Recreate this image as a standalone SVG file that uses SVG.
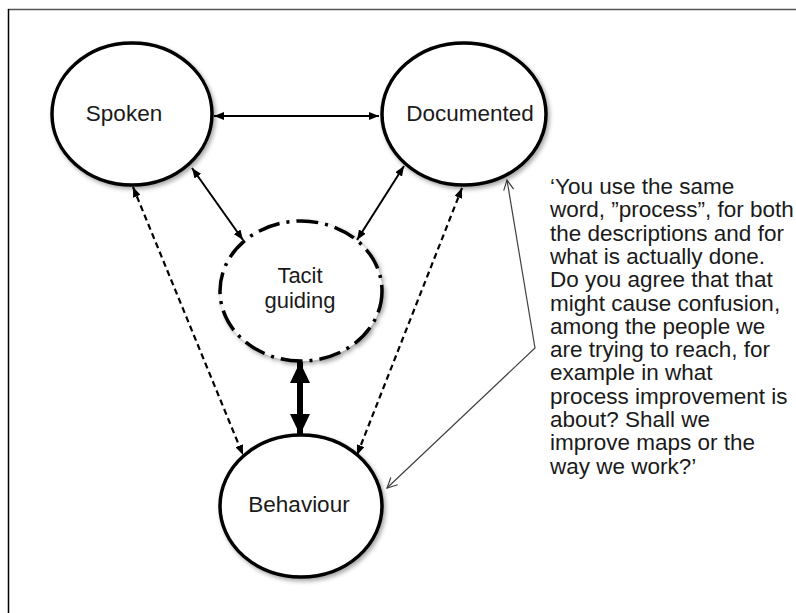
<svg xmlns="http://www.w3.org/2000/svg" width="796" height="613" viewBox="0 0 796 613">
  <style>
    .node { fill: #ffffff; stroke: #000000; stroke-width: 3.5; filter: url(#shadow); }
    .tacit { fill: #ffffff; stroke: #000000; stroke-width: 3.5; stroke-dasharray: 22 7 3 7; filter: url(#shadow); }
    .label { font-family: "Liberation Sans", Arial, sans-serif; font-size: 22.5px; fill: #1a1a1a; text-anchor: middle; }
    .quote { font-family: "Liberation Sans", Arial, sans-serif; font-size: 22.5px; fill: #1a1a1a; }
    .solid { stroke: #000; stroke-width: 2; fill: none; marker-start: url(#ah); marker-end: url(#ah); }
    .dashed { stroke: #000; stroke-width: 2.2; fill: none; stroke-dasharray: 6 4; marker-start: url(#ah); marker-end: url(#ah); }
    .thick { stroke: #000; stroke-width: 6; fill: none; marker-start: url(#big); marker-end: url(#big); }
    .thin { stroke: #404040; stroke-width: 1.2; fill: none; marker-start: url(#open); marker-end: url(#open); }
  </style>
  <defs>
    <filter id="shadow" x="-20%" y="-20%" width="150%" height="150%">
      <feDropShadow dx="2" dy="2.5" stdDeviation="2" flood-color="#000" flood-opacity="0.35"/>
    </filter>
    <marker id="ah" markerUnits="userSpaceOnUse" viewBox="0 0 10 8" refX="10" refY="4" markerWidth="10" markerHeight="8" orient="auto-start-reverse">
      <path d="M0,0 L10,4 L0,8 Z" fill="#000"/>
    </marker>
    <marker id="big" markerUnits="userSpaceOnUse" viewBox="0 0 21 20" refX="21" refY="10" markerWidth="21" markerHeight="20" orient="auto-start-reverse">
      <path d="M0,0 L21,10 L0,20 Z" fill="#000"/>
    </marker>
    <marker id="open" markerUnits="userSpaceOnUse" viewBox="0 0 12 12" refX="11" refY="6" markerWidth="12" markerHeight="12" orient="auto-start-reverse">
      <path d="M1,1 L11,6 L1,11" fill="none" stroke="#404040" stroke-width="1.2"/>
    </marker>
  </defs>
  <rect x="0" y="0" width="796" height="613" fill="#ffffff"/>
  <!-- frame -->
  <line x1="8" y1="9.5" x2="796" y2="9.5" stroke="#555" stroke-width="1.5"/>
  <line x1="8.5" y1="9" x2="8.5" y2="613" stroke="#000" stroke-width="1.5"/>

  <g id="connectors">
    <line class="solid" x1="214" y1="116" x2="379" y2="116"/>
    <line class="solid" x1="192" y1="168" x2="243" y2="240"/>
    <line class="solid" x1="404" y1="166" x2="357" y2="240"/>
    <line class="dashed" x1="133" y1="187" x2="243" y2="455"/>
    <line class="dashed" x1="462" y1="188" x2="357" y2="455"/>
    <line class="thick" x1="300" y1="362" x2="300" y2="435"/>
    <polyline class="thin" points="507,180 535,348 387,488"/>
  </g>

  <g id="spoken">
    <ellipse class="node" cx="132" cy="114" rx="80" ry="71"/>
    <text class="label" x="124" y="121">Spoken</text>
  </g>
  <g id="documented">
    <ellipse class="node" cx="464" cy="114" rx="82" ry="71"/>
    <text class="label" x="470" y="121">Documented</text>
  </g>
  <g id="tacit">
    <ellipse class="tacit" cx="301" cy="291" rx="81" ry="70"/>
    <text class="label" x="300" y="283" style="font-size:22px">Tacit</text>
    <text class="label" x="300" y="308" style="font-size:22px">guiding</text>
  </g>
  <g id="behaviour">
    <ellipse class="node" cx="301" cy="506" rx="81" ry="71"/>
    <text class="label" x="299" y="512">Behaviour</text>
  </g>

  <g id="quote">
    <text class="quote" x="550" y="194">
      <tspan x="550" y="194">‘You use the same</tspan>
      <tspan x="550" dy="23.3">word, ”process”, for both</tspan>
      <tspan x="550" dy="23.3">the descriptions and for</tspan>
      <tspan x="550" dy="23.3">what is actually done.</tspan>
      <tspan x="550" dy="23.3">Do you agree that that</tspan>
      <tspan x="550" dy="23.3">might cause confusion,</tspan>
      <tspan x="550" dy="23.3">among the people we</tspan>
      <tspan x="550" dy="23.3">are trying to reach, for</tspan>
      <tspan x="550" dy="23.3">example in what</tspan>
      <tspan x="550" dy="23.3">process improvement is</tspan>
      <tspan x="550" dy="23.3">about? Shall we</tspan>
      <tspan x="550" dy="23.3">improve maps or the</tspan>
      <tspan x="550" dy="23.3">way we work?’</tspan>
    </text>
  </g>
</svg>
